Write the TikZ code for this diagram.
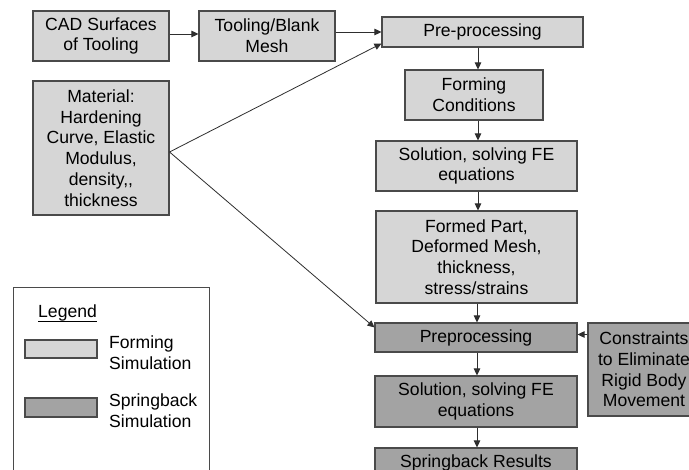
\documentclass[tikz,border=0pt]{standalone}
\usepackage{fontspec}
\setmainfont{Liberation Sans}
\usetikzlibrary{arrows.meta}
\newcommand{\diagfont}{\fontsize{17.6pt}{20.8pt}\selectfont}
\definecolor{formfill}{HTML}{D6D6D6}
\definecolor{springfill}{HTML}{A3A3A3}
\definecolor{boxline}{HTML}{4A4A4A}
\definecolor{arrline}{HTML}{2E2E2E}
\begin{document}
\begin{tikzpicture}[x=1pt,y=-1pt,
  box/.style={draw=boxline, line width=1.1pt, inner sep=0pt, align=center, font=\diagfont},
  formbox/.style={box, fill=formfill},
  springbox/.style={box, fill=springfill},
  arr/.style={-{Triangle[length=7pt,width=6.5pt]}, line width=0.8pt, draw=arrline}]
\fill[white] (0,0) rectangle (689,470);
\path[use as bounding box, clip] (0,0) rectangle (689,470);

% forming stage inputs
\node[formbox, minimum width=136pt, minimum height=50pt] (cad) at (101,36) {CAD Surfaces\\of Tooling};
\node[formbox, minimum width=136pt, minimum height=50pt] (mesh) at (267,36) {Tooling/Blank\\Mesh};
\node[formbox, minimum width=136pt, minimum height=134pt] (mat) at (101,148) {Material:\\Hardening\\Curve, Elastic\\Modulus,\\density,{},\\thickness};

% forming simulation chain
\node[formbox, minimum width=201pt, minimum height=30pt] (pre) at (482.5,32) {Pre-processing};
\node[formbox, minimum width=138pt, minimum height=50pt] (fc) at (474,95) {Forming\\Conditions};
\node[formbox, minimum width=201pt, minimum height=50pt] (sol) at (476.5,166) {Solution, solving FE\\equations};
\node[formbox, minimum width=201pt, minimum height=92pt] (part) at (476.5,257) {Formed Part,\\Deformed Mesh,\\thickness,\\stress/strains};

% springback simulation chain
\node[springbox, minimum width=202pt, minimum height=29pt] (pp) at (476,337.5) {Preprocessing};
\node[springbox, minimum width=202pt, minimum height=51pt] (sol2) at (476,401.5) {Solution, solving FE\\equations};
\node[springbox, minimum width=202pt, minimum height=30pt] (res) at (476,463) {Springback Results};
\node[springbox, minimum width=112pt, minimum height=93pt] (con) at (644,369.5) {Constraints\\to Eliminate\\Rigid Body\\Movement};

% legend
\node[draw=boxline, line width=1pt, minimum width=196pt, minimum height=190pt, anchor=north west, inner sep=0pt] (legend) at (13,287) {};
\node[anchor=base west, font=\diagfont, inner sep=0pt] (legtitle) at (38,318) {Legend};
\draw[line width=0.9pt] ([yshift=-3.5pt]legtitle.base west) -- ([yshift=-3.5pt]legtitle.base east);
\node[formbox, minimum width=72pt, minimum height=18pt] (swf) at (61,349) {};
\node[springbox, minimum width=72pt, minimum height=19pt] (sws) at (61,407.5) {};
\node[anchor=west, align=left, font=\diagfont, inner sep=0pt] (lf) at (109,353) {Forming\\Simulation};
\node[anchor=west, align=left, font=\diagfont, inner sep=0pt] (ls) at (109,411) {Springback\\Simulation};

% connectors
\coordinate (colA) at (478,0);
\coordinate (colB) at (477,0);
\draw[arr] ([yshift=2pt]cad.east) -- ([yshift=2pt]mesh.west);
\draw[arr] (mesh.east |- pre.west) -- (pre.west);
\coordinate (matout) at ([yshift=-4pt]mat.east);
\draw[arr] (matout) -- ([yshift=4pt]pre.south west);
\draw[arr] (matout) -- ([yshift=-5pt]pp.north west);
\draw[arr] (pre.south -| colA) -- (fc.north -| colA);
\draw[arr] (fc.south -| colA) -- (sol.north -| colA);
\draw[arr] (sol.south -| colA) -- (part.north -| colA);
\draw[arr] (part.south -| colB) -- (pp.north -| colB);
\draw[arr] (pp.south -| colB) -- (sol2.north -| colB);
\draw[arr] (sol2.south -| colB) -- (res.north -| colB);
\coordinate (cin) at ([yshift=3pt]pp.east);
\draw[arr] (con.west |- cin) -- (cin);
\end{tikzpicture}
\end{document}
